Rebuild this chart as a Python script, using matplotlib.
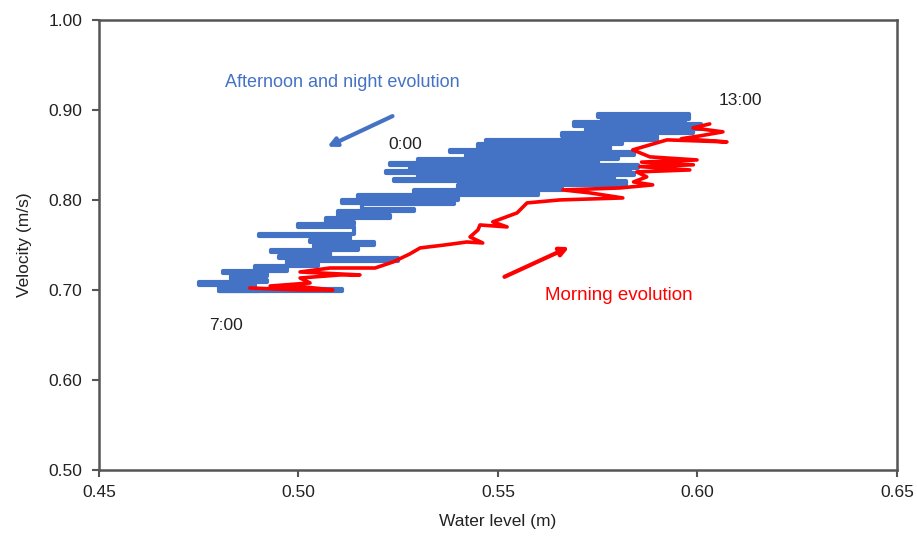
import matplotlib.pyplot as plt

plt.rcParams['font.family'] = ['Liberation Sans', 'DejaVu Sans']

# Afternoon and night path (13:00 -> 0:00 -> 7:00): each point is the end of a
# roughly horizontal stroke at that velocity. Water level (m), velocity (m/s)
night_level = [0.601, 0.576, 0.598, 0.575, 0.597, 0.569, 0.601, 0.572, 0.599, 0.566,
               0.590, 0.547, 0.581, 0.545, 0.578, 0.538, 0.584, 0.542, 0.580, 0.530,
               0.575, 0.523, 0.585, 0.528, 0.583, 0.522, 0.584, 0.530, 0.579, 0.524,
               0.582, 0.540, 0.566, 0.529, 0.560, 0.515, 0.540, 0.511, 0.539, 0.516,
               0.529, 0.510, 0.523, 0.507, 0.514, 0.500, 0.514, 0.490, 0.513, 0.503,
               0.519, 0.504, 0.515, 0.493, 0.508, 0.495, 0.525, 0.497, 0.505, 0.489,
               0.497, 0.481, 0.492, 0.483, 0.492, 0.475, 0.489, 0.480, 0.511, 0.480,
               0.490]
night_vel = [0.884, 0.884, 0.890, 0.895, 0.892, 0.887, 0.882, 0.879, 0.877, 0.874,
             0.871, 0.867, 0.864, 0.862, 0.859, 0.855, 0.853, 0.850, 0.848, 0.846,
             0.843, 0.841, 0.839, 0.836, 0.834, 0.832, 0.830, 0.828, 0.826, 0.823,
             0.821, 0.817, 0.813, 0.811, 0.808, 0.805, 0.802, 0.800, 0.797, 0.795,
             0.790, 0.788, 0.783, 0.780, 0.776, 0.773, 0.770, 0.762, 0.760, 0.756,
             0.753, 0.750, 0.747, 0.744, 0.742, 0.738, 0.736, 0.732, 0.729, 0.727,
             0.724, 0.721, 0.719, 0.715, 0.711, 0.709, 0.706, 0.703, 0.701, 0.699,
             0.699]

# Morning path (7:00 -> 13:00)
morning_level = [0.4878, 0.5004, 0.5086, 0.5016, 0.4929, 0.5029, 0.5004, 0.5104, 0.5154,
                 0.5004, 0.5079, 0.5192, 0.5237, 0.5279, 0.5305, 0.5367, 0.5422, 0.5462,
                 0.5430, 0.5450, 0.5455, 0.5523, 0.5487, 0.5548, 0.5573, 0.5655, 0.5813,
                 0.5731, 0.5663, 0.5806, 0.5888, 0.5840, 0.5873, 0.5848, 0.5981, 0.5856,
                 0.5990, 0.5860, 0.5999, 0.5881, 0.5838, 0.5924, 0.6074, 0.5960, 0.6006,
                 0.6064, 0.5989, 0.6031]
morning_vel = [0.7022, 0.7000, 0.7000, 0.7033, 0.7044, 0.7078, 0.7133, 0.7167, 0.7167,
               0.7200, 0.7244, 0.7244, 0.7311, 0.7400, 0.7467, 0.7500, 0.7533, 0.7522,
               0.7589, 0.7667, 0.7722, 0.7700, 0.7756, 0.7856, 0.7967, 0.8000, 0.8022,
               0.8078, 0.8111, 0.8133, 0.8167, 0.8200, 0.8256, 0.8311, 0.8333, 0.8370,
               0.8390, 0.8420, 0.8444, 0.8478, 0.8556, 0.8667, 0.8644, 0.8680, 0.8711,
               0.8756, 0.8800, 0.8844]

x_ticks = [0.45, 0.50, 0.55, 0.60, 0.65]
y_ticks = [0.50, 0.60, 0.70, 0.80, 0.90, 1.00]

BLUE = '#4472C4'
RED = '#FF0000'
INK = '#222222'
FS = 12.5

fig = plt.figure(figsize=(9.17, 5.36), dpi=100)
ax = fig.add_axes([0.108, 0.123, 0.870, 0.840])

ax.plot(night_level, night_vel, color=BLUE, lw=3.0, drawstyle='steps-pre',
        solid_joinstyle='round', solid_capstyle='round')
ax.plot(morning_level, morning_vel, color=RED, lw=2.6, solid_joinstyle='round',
        solid_capstyle='round')

ax.set_xlim(0.45, 0.65)
ax.set_ylim(0.50, 1.00)
ax.set_xticks(x_ticks)
ax.set_yticks(y_ticks)
ax.set_xticklabels(['%.2f' % v for v in x_ticks])
ax.set_yticklabels(['%.2f' % v for v in y_ticks])
ax.tick_params(direction='out', length=5, width=1.5, color='#555555',
               labelsize=FS, labelcolor=INK)
ax.tick_params(axis='x', pad=6)
ax.tick_params(axis='y', pad=7)
for s in ax.spines.values():
    s.set_color('#555555')
    s.set_linewidth(1.8)

ax.set_xlabel('Water level (m)', fontsize=FS, color=INK, labelpad=10)
ax.set_ylabel('Velocity (m/s)', fontsize=FS, color=INK, labelpad=12)

# annotations
ax.text(0.5109, 0.930, 'Afternoon and night evolution', color=BLUE, fontsize=13,
        ha='center', va='center')
ax.annotate('', xy=(0.5066, 0.8578), xytext=(0.5242, 0.8944),
            arrowprops=dict(arrowstyle='-|>', color=BLUE, lw=3, mutation_scale=13))
ax.text(0.5803, 0.6944, 'Morning evolution', color=RED, fontsize=13.5,
        ha='center', va='center')
ax.annotate('', xy=(0.5685, 0.7489), xytext=(0.551, 0.7133),
            arrowprops=dict(arrowstyle='-|>', color=RED, lw=3, mutation_scale=13))
ax.text(0.5267, 0.861, '0:00', fontsize=FS, ha='center', va='center', color=INK)
ax.text(0.6108, 0.910, '13:00', fontsize=FS, ha='center', va='center', color=INK)
ax.text(0.4818, 0.661, '7:00', fontsize=FS, ha='center', va='center', color=INK)

fig.savefig('out.png', dpi=100)
